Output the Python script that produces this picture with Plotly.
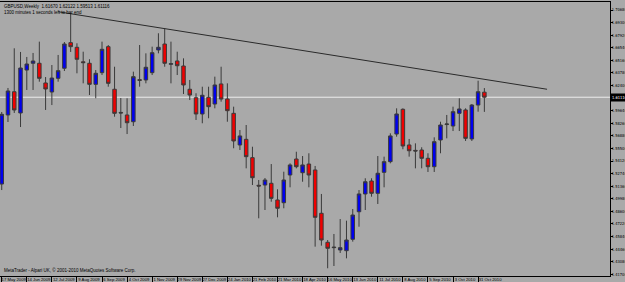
import pandas as pd
import plotly.graph_objects as go

# ---- data (GBPUSD weekly) ----
open_ = [1.5160, 1.5917, 1.6172, 1.5939, 1.6410, 1.6484, 1.6484, 1.6268, 1.6169, 1.6319,
         1.6429, 1.6710, 1.6659, 1.6500, 1.6484, 1.6253, 1.6381, 1.6666, 1.6199, 1.5945,
         1.5917, 1.5843, 1.6304, 1.6301, 1.6381, 1.6630, 1.6695, 1.6473, 1.6509, 1.6454,
         1.6199, 1.6106, 1.5928, 1.6111, 1.6037, 1.6257, 1.6092, 1.5935, 1.5588, 1.5650,
         1.5449, 1.5146, 1.5149, 1.5168, 1.4985, 1.4955, 1.5259, 1.5434, 1.5284, 1.5379,
         1.5314, 1.4839, 1.4521, 1.4469, 1.4437, 1.4429, 1.4554, 1.4856, 1.5051, 1.5193,
         1.5058, 1.5288, 1.5405, 1.5708, 1.5979, 1.5588, 1.5529, 1.5533, 1.5442, 1.5350,
         1.5643, 1.5812, 1.5796, 1.5935, 1.5972, 1.5654, 1.6026, 1.6167]
high_ = [1.5950, 1.6213, 1.6648, 1.6608, 1.6553, 1.6597, 1.6721, 1.6333, 1.6465, 1.6575,
         1.6717, 1.7035, 1.6703, 1.6611, 1.6528, 1.6410, 1.6721, 1.6684, 1.6446, 1.6103,
         1.6100, 1.6392, 1.6684, 1.6593, 1.6666, 1.6813, 1.6867, 1.6721, 1.6611, 1.6538,
         1.6301, 1.6155, 1.6227, 1.6227, 1.6337, 1.6446, 1.6264, 1.6008, 1.5752, 1.5807,
         1.5569, 1.5204, 1.5226, 1.5379, 1.5102, 1.5295, 1.5387, 1.5514, 1.5467, 1.5497,
         1.5358, 1.5051, 1.4546, 1.4612, 1.4776, 1.4758, 1.4886, 1.5094, 1.5223, 1.5223,
         1.5467, 1.5460, 1.5716, 1.5990, 1.5990, 1.5654, 1.5606, 1.5563, 1.5497, 1.5672,
         1.5843, 1.5917, 1.6008, 1.6100, 1.5990, 1.6037, 1.6293, 1.6212]
low_ = [1.5094, 1.5840, 1.5939, 1.5785, 1.6191, 1.6191, 1.6282, 1.5972, 1.6026, 1.6282,
        1.6399, 1.6608, 1.6374, 1.6264, 1.6136, 1.6100, 1.6355, 1.6227, 1.5898, 1.5774,
        1.5708, 1.5796, 1.6227, 1.6264, 1.6355, 1.6593, 1.6446, 1.6264, 1.6355, 1.6147,
        1.6081, 1.5862, 1.5826, 1.5881, 1.5990, 1.6063, 1.5843, 1.5552, 1.5533, 1.5332,
        1.5149, 1.4784, 1.4875, 1.4966, 1.4795, 1.4894, 1.5124, 1.5332, 1.5185, 1.5124,
        1.4473, 1.4484, 1.4236, 1.4261, 1.4404, 1.4345, 1.4528, 1.4692, 1.4875, 1.5021,
        1.4941, 1.5124, 1.5387, 1.5679, 1.5541, 1.5460, 1.5332, 1.5332, 1.5292, 1.5292,
        1.5497, 1.5661, 1.5741, 1.5741, 1.5632, 1.5632, 1.5953, 1.5951]
close_ = [1.5924, 1.6180, 1.5972, 1.6432, 1.6476, 1.6509, 1.6319, 1.6202, 1.6322, 1.6403,
          1.6695, 1.6666, 1.6528, 1.6491, 1.6253, 1.6374, 1.6637, 1.6264, 1.5935, 1.5939,
          1.5832, 1.6337, 1.6297, 1.6440, 1.6600, 1.6659, 1.6484, 1.6479, 1.6457, 1.6246,
          1.6136, 1.5928, 1.6133, 1.6008, 1.6246, 1.6092, 1.5964, 1.5632, 1.5687, 1.5460,
          1.5229, 1.5138, 1.5204, 1.5003, 1.4894, 1.5204, 1.5369, 1.5350, 1.5369, 1.5259,
          1.4795, 1.4546, 1.4455, 1.4463, 1.4462, 1.4546, 1.4820, 1.5051, 1.5185, 1.5058,
          1.5278, 1.5405, 1.5687, 1.5928, 1.5577, 1.5525, 1.5522, 1.5442, 1.5350, 1.5624,
          1.5807, 1.5818, 1.5953, 1.5983, 1.5661, 1.6026, 1.6172, 1.6112]

dates = pd.date_range("2009-05-17", periods=len(close_), freq="7D")

x_tick_labels = ["17 May 2009", "14 Jun 2009", "12 Jul 2009", "9 Aug 2009", "6 Sep 2009",
                 "4 Oct 2009", "1 Nov 2009", "29 Nov 2009", "27 Dec 2009", "24 Jan 2010",
                 "21 Feb 2010", "21 Mar 2010", "18 Apr 2010", "16 May 2010", "13 Jun 2010",
                 "11 Jul 2010", "8 Aug 2010", "5 Sep 2010", "3 Oct 2010", "31 Oct 2010"]
x_tick_dates = list(dates[::4])

y_ticks = [1.41700, 1.43080, 1.44460, 1.45840, 1.47220, 1.48600, 1.49980, 1.51360,
           1.52740, 1.54120, 1.55500, 1.56880, 1.58260, 1.59640, 1.62400, 1.63780,
           1.65160, 1.66540, 1.67920, 1.69300, 1.70680]
y_tick_labels = ["%.5f" % v for v in y_ticks]

bid_price = 1.61116
trend_dates = ["2009-07-19", "2011-01-16"]
trend_prices = [1.7049, 1.6199]

header = "GBPUSD,Weekly  1.61670 1.62122 1.59513 1.61116"
header2 = "1300 minutes 1 seconds left to bar end"
footer = "MetaTrader - Alpari UK, \u00a9 2001-2010 MetaQuotes Software Corp."

# ---- styling ----
BG = "#A9A9A9"
FONT = "Liberation Sans"
NARROW = "Liberation Sans Narrow, DejaVu Sans Condensed, Liberation Sans"

fig = go.Figure()
fig.add_trace(go.Candlestick(
    x=dates, open=open_, high=high_, low=low_, close=close_,
    increasing=dict(fillcolor="#0000F0", line=dict(color="#3a3a3a", width=1)),
    decreasing=dict(fillcolor="#F00000", line=dict(color="#3a3a3a", width=1)),
    whiskerwidth=0, hoverinfo="skip",
))

# bid line
fig.add_shape(type="line", xref="paper", yref="y", x0=0, x1=1, y0=bid_price, y1=bid_price,
              line=dict(color="#EDEDED", width=1), layer="below")
# trend line
fig.add_shape(type="line", xref="x", yref="y", x0=trend_dates[0], x1=trend_dates[1],
              y0=trend_prices[0], y1=trend_prices[1], line=dict(color="#2a2a2a", width=1))

fig.add_annotation(xref="paper", yref="paper", x=0.003, y=1.0, xanchor="left", yanchor="top",
                   text=header + "<br>" + header2, showarrow=False, align="left",
                   font=dict(family=FONT, size=4.5, color="black"))
fig.add_annotation(xref="paper", yref="paper", x=0.003, y=0.005, xanchor="left", yanchor="bottom",
                   text=footer, showarrow=False, align="left",
                   font=dict(family=FONT, size=4.5, color="black"))
fig.add_annotation(xref="paper", yref="y", x=1.0, y=bid_price, xanchor="left", yanchor="middle",
                   text="%.5f" % bid_price, showarrow=False, bgcolor="black", borderpad=1,
                   font=dict(family=NARROW, size=4.0, color="white"))

fig.update_layout(
    width=625, height=282,
    margin=dict(l=0, r=15, t=2, b=6, autoexpand=False),
    paper_bgcolor=BG, plot_bgcolor=BG,
    showlegend=False,
    boxgap=0.2,
    xaxis=dict(
        type="date", rangeslider=dict(visible=False), automargin=False,
        range=["2009-05-15 02:00", "2011-03-27 07:00"],
        tickvals=x_tick_dates, ticktext=x_tick_labels, tickangle=0,
        tickfont=dict(family=FONT, size=4.2, color="black"),
        ticks="outside", ticklen=6, tickcolor="black", tickwidth=1,
        ticklabelshift=12, ticklabelstandoff=-7,
        showgrid=False, zeroline=False,
        showline=True, linecolor="black", linewidth=1, mirror=True,
    ),
    yaxis=dict(
        side="right", automargin=False,
        range=[1.41514, 1.71558],
        tickvals=y_ticks, ticktext=y_tick_labels,
        tickfont=dict(family=NARROW, size=4.0, color="black"),
        ticks="outside", ticklen=2, tickcolor="black",
        ticklabelstandoff=-2,
        showgrid=False, zeroline=False,
        showline=True, linecolor="black", linewidth=1, mirror=True,
    ),
)

fig.write_html("out.html")
